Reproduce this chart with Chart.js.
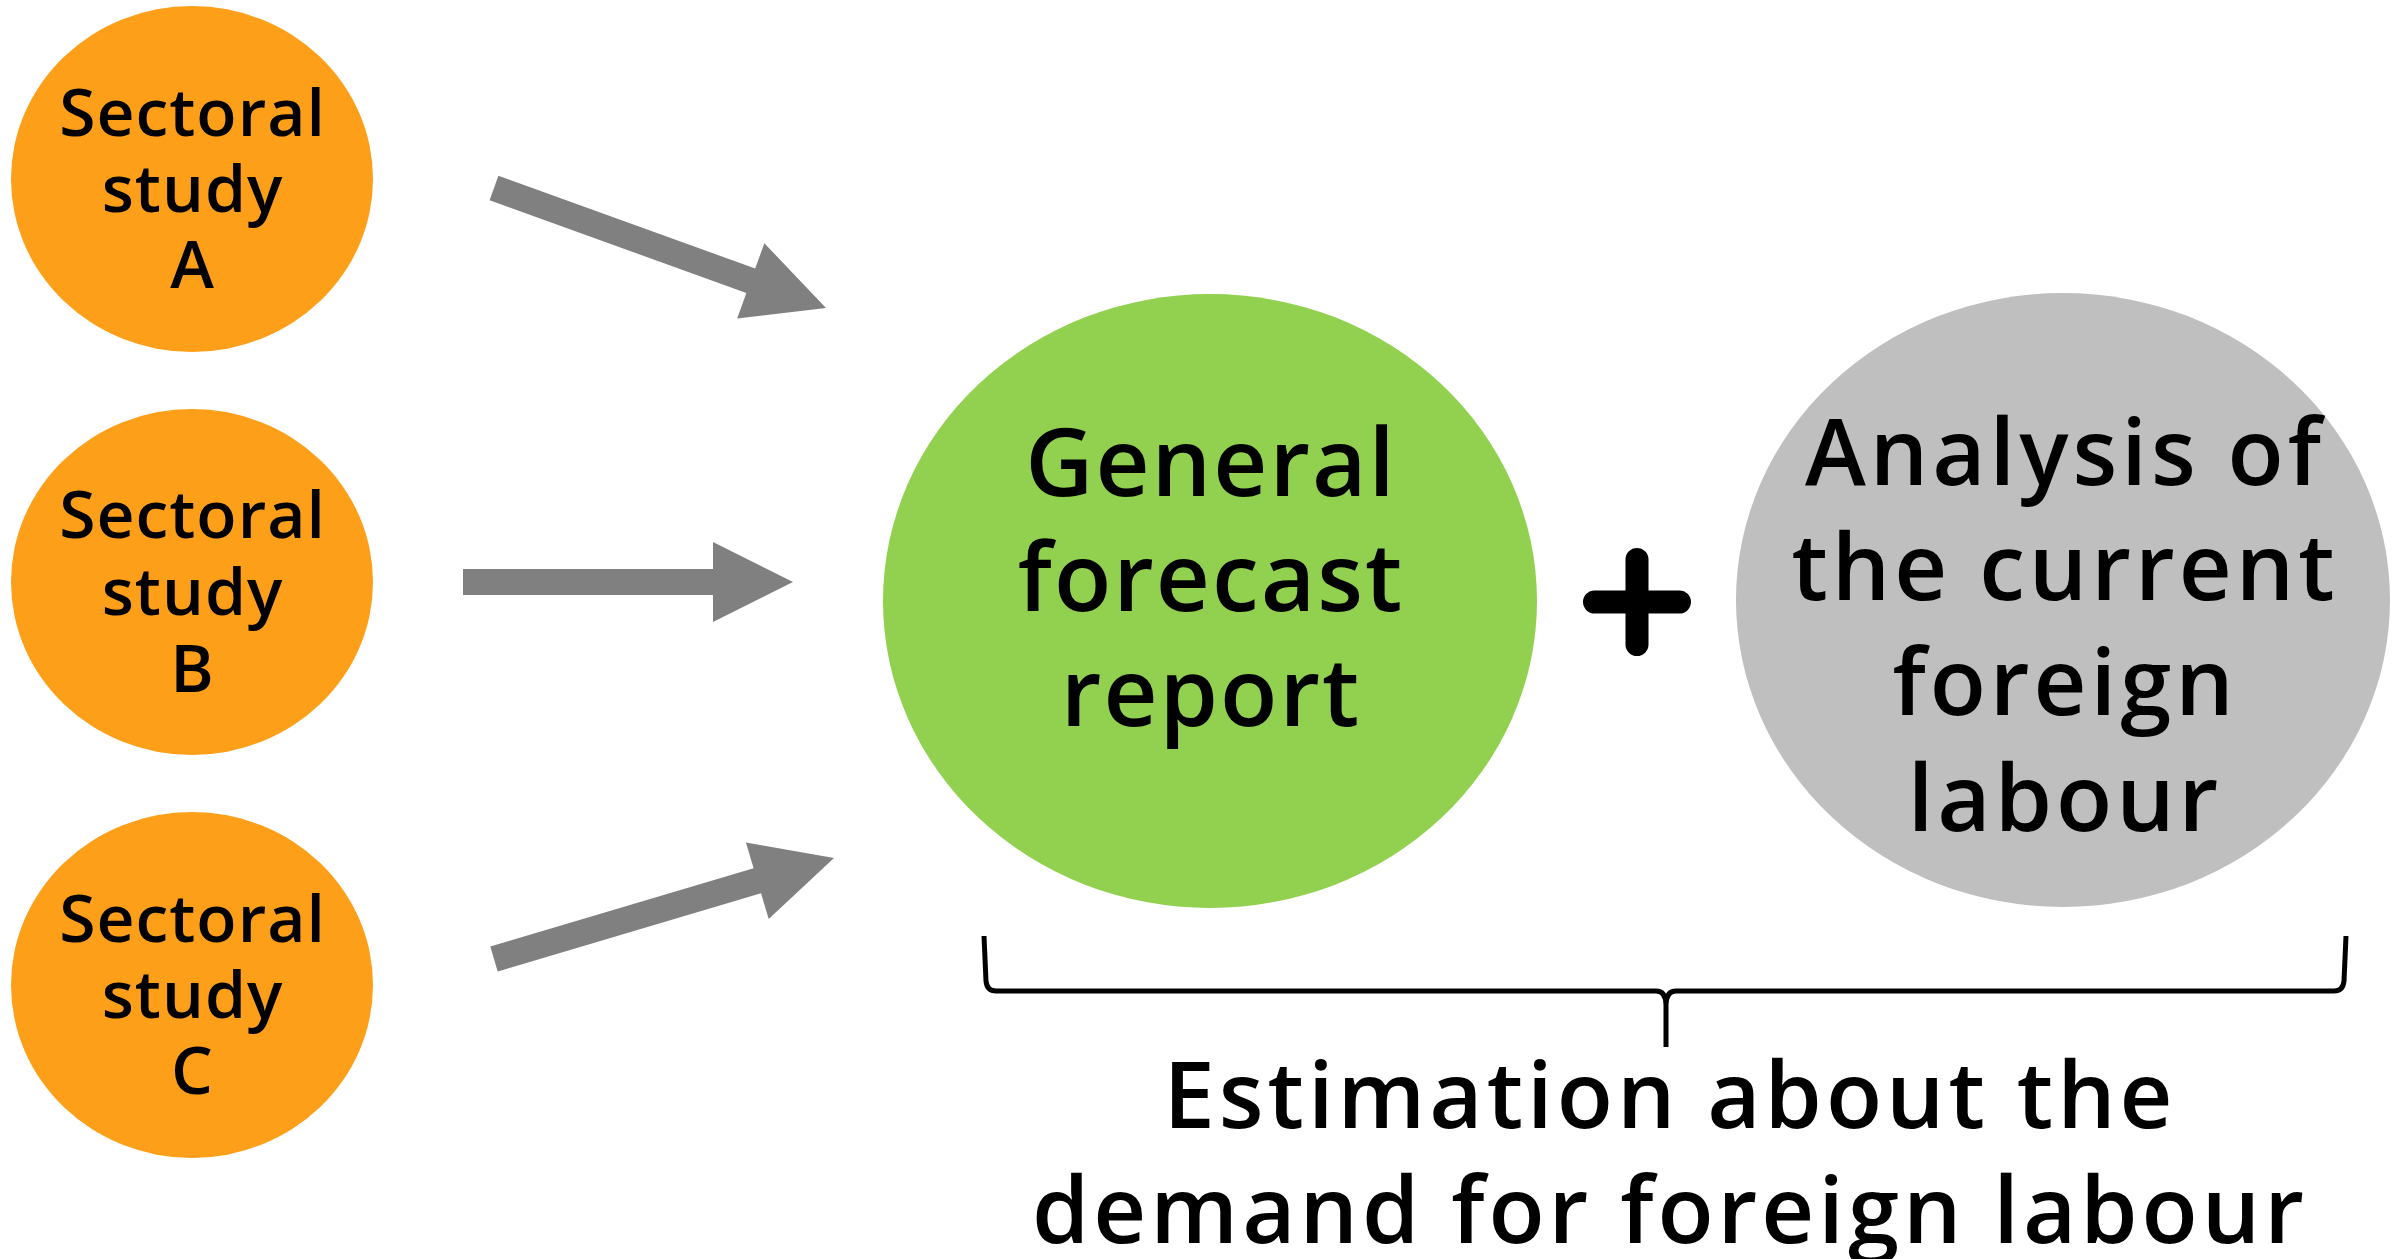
<!DOCTYPE html>
<html>
<head>
<meta charset="utf-8">
<script src="https://cdn.jsdelivr.net/npm/chart.js@4.4.1/dist/chart.umd.min.js"></script>
<style>
  html, body { margin: 0; padding: 0; background: #fff; }
  #wrap { width: 2402px; height: 1259px; }
</style>
</head>
<body>
<div id="wrap"><canvas id="flow"></canvas></div>
<script>
// diagram content
const sourceLines = [
  ['Sectoral', 'study', 'A'],
  ['Sectoral', 'study', 'B'],
  ['Sectoral', 'study', 'C'],
];
const forecastLines = ['General', 'forecast', 'report'];
const analysisLines = ['Analysis of', 'the current', 'foreign', 'labour'];
const resultLines = ['Estimation about the', 'demand for foreign labour'];

// layout in plot units (x 0..2402, y 0..1259 top-down)
const FONT = '"Open Sans", "DejaVu Sans", sans-serif';
const nodes = [
  { lines: sourceLines[0], x: 192, y: 179, rx: 181, ry: 173, fill: '#FE9F19', size: 66, gap: 1, base: [-43, 33, 109] },
  { lines: sourceLines[1], x: 192, y: 582, rx: 181, ry: 173, fill: '#FE9F19', size: 66, gap: 1, base: [-44, 33, 110] },
  { lines: sourceLines[2], x: 192, y: 985, rx: 181, ry: 173, fill: '#FE9F19', size: 66, gap: 1, base: [-43, 33, 109] },
  { lines: forecastLines, x: 1210, y: 601, rx: 327, ry: 307, fill: '#92D050', size: 94, gap: 2, base: [-105, 10, 125] },
  { lines: analysisLines, x: 2063, y: 600, rx: 327, ry: 307, fill: '#BFBFBF', size: 92, gap: 4, base: [-115, 0, 115, 231] },
];
const arrows = [
  { from: [494, 188], to: [826, 308] },
  { from: [463, 582], to: [793, 582] },
  { from: [494, 959], to: [834, 858] },
];
const plus = { x: 1637, y: 602, half: 54, width: 23 };
const brace = { left: 984, right: 2346, top: 936, mid: 991, cx: 1666, bottom: 1047 };
const result = { x: 1668, base: [1128, 1243], size: 92, gap: 4 };

function spacedText(ctx, t, x, y, gap) {
  ctx.letterSpacing = gap + 'px';
  ctx.fillText(t, x + gap / 2, y);
  ctx.letterSpacing = '0px';
}

const diagramPlugin = {
  id: 'diagram',
  afterDatasetsDraw(chart) {
    const ctx = chart.ctx;
    const xs = chart.scales.x, ys = chart.scales.y;
    const px = v => xs.getPixelForValue(v);
    const py = v => ys.getPixelForValue(v);
    const sx = d => Math.abs(xs.getPixelForValue(d) - xs.getPixelForValue(0));
    const sy = d => Math.abs(ys.getPixelForValue(d) - ys.getPixelForValue(0));
    ctx.save();

    // arrows
    ctx.fillStyle = '#808080';
    arrows.forEach(a => {
      const x0 = px(a.from[0]), y0 = py(a.from[1]);
      const x1 = px(a.to[0]), y1 = py(a.to[1]);
      const len = Math.hypot(x1 - x0, y1 - y0);
      const ang = Math.atan2(y1 - y0, x1 - x0);
      const sh = sx(13), hl = sx(80), hw = sx(40);
      ctx.save();
      ctx.translate(x0, y0);
      ctx.rotate(ang);
      ctx.beginPath();
      ctx.moveTo(0, -sh);
      ctx.lineTo(len - hl, -sh);
      ctx.lineTo(len - hl, -hw);
      ctx.lineTo(len, 0);
      ctx.lineTo(len - hl, hw);
      ctx.lineTo(len - hl, sh);
      ctx.lineTo(0, sh);
      ctx.closePath();
      ctx.fill();
      ctx.restore();
    });

    // ellipses + labels
    nodes.forEach(n => {
      ctx.beginPath();
      ctx.ellipse(px(n.x), py(n.y), sx(n.rx), sy(n.ry), 0, 0, Math.PI * 2);
      ctx.fillStyle = n.fill;
      ctx.fill();
      ctx.fillStyle = '#000';
      ctx.textAlign = 'center';
      ctx.textBaseline = 'alphabetic';
      ctx.font = `600 ${n.size}px ${FONT}`;
      n.lines.forEach((t, i) => spacedText(ctx, t, px(n.x), py(n.y + n.base[i]), n.gap));
    });

    // plus sign
    ctx.strokeStyle = '#000';
    ctx.lineCap = 'round';
    ctx.lineWidth = sx(plus.width);
    const r = plus.half - plus.width / 2;
    ctx.beginPath();
    ctx.moveTo(px(plus.x - r), py(plus.y));
    ctx.lineTo(px(plus.x + r), py(plus.y));
    ctx.moveTo(px(plus.x), py(plus.y - r));
    ctx.lineTo(px(plus.x), py(plus.y + r));
    ctx.stroke();

    // brace
    const b = brace;
    ctx.lineWidth = 5;
    ctx.lineCap = 'butt';
    ctx.lineJoin = 'round';
    ctx.beginPath();
    ctx.moveTo(px(b.left), py(b.top));
    ctx.lineTo(px(b.left + 2), py(b.mid - 10));
    ctx.quadraticCurveTo(px(b.left + 3), py(b.mid), px(b.left + 12), py(b.mid));
    ctx.lineTo(px(b.cx - 10), py(b.mid));
    ctx.quadraticCurveTo(px(b.cx), py(b.mid), px(b.cx), py(b.mid + 14));
    ctx.lineTo(px(b.cx), py(b.bottom));
    ctx.moveTo(px(b.cx), py(b.mid + 14));
    ctx.quadraticCurveTo(px(b.cx), py(b.mid), px(b.cx + 10), py(b.mid));
    ctx.lineTo(px(b.right - 12), py(b.mid));
    ctx.quadraticCurveTo(px(b.right - 3), py(b.mid), px(b.right - 2), py(b.mid - 10));
    ctx.lineTo(px(b.right), py(b.top));
    ctx.stroke();

    // result text
    ctx.fillStyle = '#000';
    ctx.font = `600 ${result.size}px ${FONT}`;
    ctx.textAlign = 'center';
    resultLines.forEach((t, i) => spacedText(ctx, t, px(result.x), py(result.base[i]), result.gap));

    ctx.restore();
  }
};

new Chart(document.getElementById('flow'), {
  type: 'scatter',
  data: {
    datasets: [{
      data: nodes.map(n => ({ x: n.x, y: n.y })),
      pointRadius: 0,
    }],
  },
  options: {
    responsive: true,
    maintainAspectRatio: false,
    animation: false,
    events: [],
    layout: { padding: 0 },
    plugins: { legend: { display: false }, tooltip: { enabled: false } },
    scales: {
      x: { type: 'linear', min: 0, max: 2402, display: false },
      y: { type: 'linear', min: 0, max: 1259, reverse: true, display: false },
    },
  },
  plugins: [diagramPlugin],
});
</script>
</body>
</html>
